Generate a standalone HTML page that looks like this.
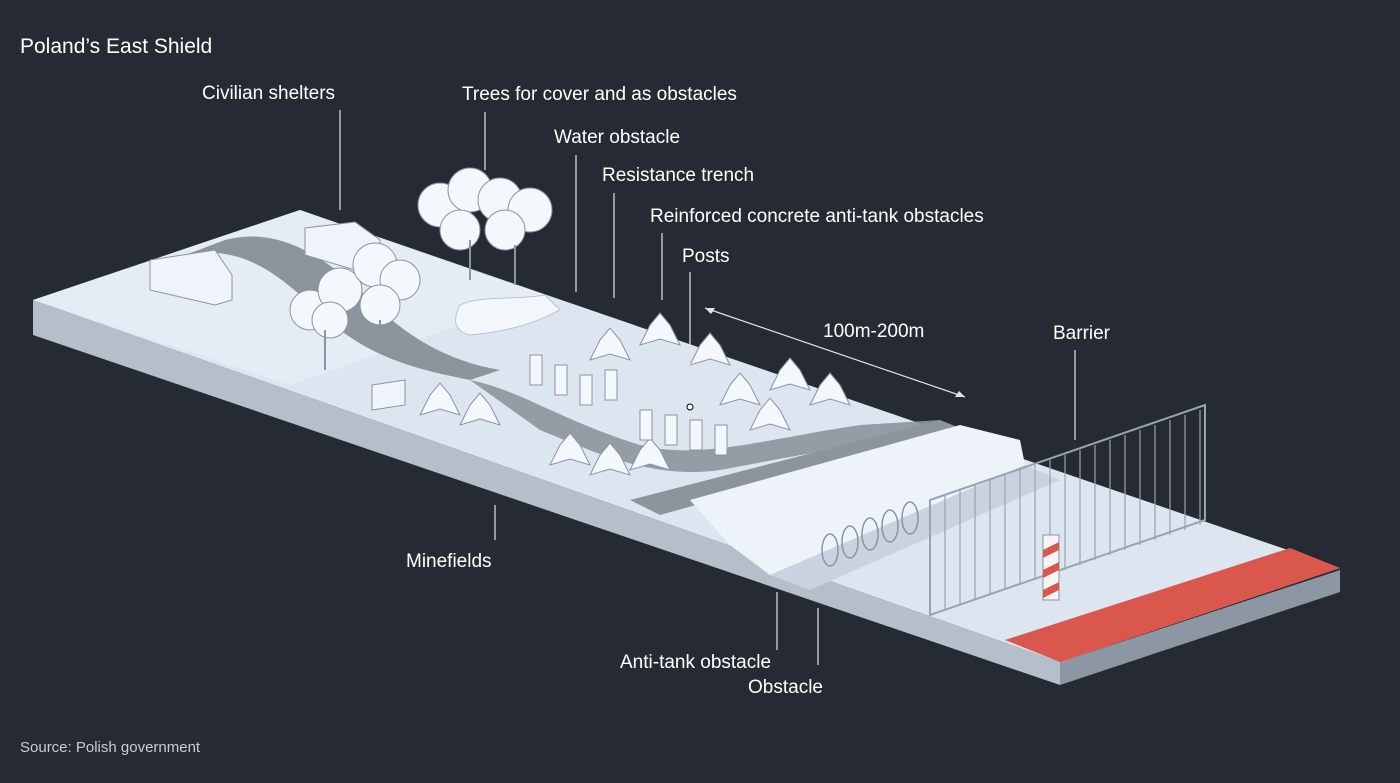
<!DOCTYPE html>
<html><head><meta charset="utf-8"><style>
body{margin:0;background:#262a33;}
svg{display:block;font-family:"Liberation Sans",sans-serif;}
</style></head><body>
<svg width="1400" height="783" viewBox="0 0 1400 783">
<rect width="1400" height="783" fill="#262a33"/>
<!-- slab sides -->
<polygon points="33,300 33,335 1060,685 1060,662" fill="#b5bfcc"/>
<polygon points="1060,662 1340,570 1340,592 1060,685" fill="#8d96a3"/>
<!-- top -->
<polygon points="33,300 300,210 1340,568 1060,662" fill="#dde5f0"/>
<!-- raised ground left -->
<polygon points="300,210 470,270 545,295 290,385 33,300" fill="#e6ecf5"/>
<!-- gray road curving -->
<path d="M185,255 C260,240 300,300 340,330 C380,360 420,370 470,380 L500,370 C440,360 400,330 370,300 C330,260 280,225 225,240 Z" fill="#8e949c"/>
<path d="M470,380 C520,390 560,420 640,445 C700,460 760,440 860,425 L940,420 L960,430 C880,440 800,455 720,470 C650,480 590,450 540,430 Z" fill="#8e949c" opacity="0.9"/>
<polygon points="630,500 940,420 965,430 660,515" fill="#8e949c"/>
<!-- berm -->
<polygon points="690,500 960,425 1020,440 1025,465 770,575 730,545" fill="#eef3fa"/>
<polygon points="770,575 1025,465 1060,480 810,590" fill="#c9d2de"/>
<!-- water -->
<path d="M460,305 C480,295 520,300 545,295 L560,310 C540,320 520,330 470,335 C450,330 455,315 460,305Z" fill="#f3f7fc" stroke="#b8c4d4"/>
<!-- blocks -->
<polygon points="150,260 215,250 232,275 232,300 215,305 150,290" fill="#f0f4fa" stroke="#8a94a2"/>
<polygon points="305,228 355,222 380,240 380,262 355,270 305,255" fill="#f0f4fa" stroke="#8a94a2"/>
<polygon points="372,385 405,380 405,405 372,410" fill="#f0f4fa" stroke="#8a94a2"/>
<!-- trees -->
<g fill="#f4f7fb" stroke="#8a94a2">
<circle cx="440" cy="205" r="22"/><circle cx="470" cy="190" r="22"/><circle cx="500" cy="200" r="22"/><circle cx="530" cy="210" r="22"/><circle cx="460" cy="230" r="20"/><circle cx="505" cy="230" r="20"/>
<circle cx="310" cy="310" r="20"/><circle cx="340" cy="290" r="22"/><circle cx="375" cy="265" r="22"/><circle cx="400" cy="280" r="20"/><circle cx="330" cy="320" r="18"/><circle cx="380" cy="305" r="20"/>
</g>
<g stroke="#8a94a2" stroke-width="2"><line x1="470" y1="240" x2="470" y2="280"/><line x1="515" y1="245" x2="515" y2="285"/><line x1="325" y1="330" x2="325" y2="370"/><line x1="380" y1="320" x2="380" y2="352"/></g>
<!-- tetrapods / posts -->
<g fill="#f4f7fb" stroke="#8a94a2">
<path d="M430,395 l10,-12 l10,12 l10,20 l-20,-6 l-20,6z"/>
<path d="M470,405 l10,-12 l10,12 l10,20 l-20,-6 l-20,6z"/>
<path d="M560,445 l10,-12 l10,12 l10,20 l-20,-6 l-20,6z"/>
<path d="M600,455 l10,-12 l10,12 l10,20 l-20,-6 l-20,6z"/>
<path d="M640,450 l10,-12 l10,12 l10,20 l-20,-6 l-20,6z"/>
<path d="M600,340 l10,-12 l10,12 l10,20 l-20,-6 l-20,6z"/>
<path d="M650,325 l10,-12 l10,12 l10,20 l-20,-6 l-20,6z"/>
<path d="M700,345 l10,-12 l10,12 l10,20 l-20,-6 l-20,6z"/>
<path d="M730,385 l10,-12 l10,12 l10,20 l-20,-6 l-20,6z"/>
<path d="M780,370 l10,-12 l10,12 l10,20 l-20,-6 l-20,6z"/>
<path d="M820,385 l10,-12 l10,12 l10,20 l-20,-6 l-20,6z"/>
<path d="M760,410 l10,-12 l10,12 l10,20 l-20,-6 l-20,6z"/>
<rect x="530" y="355" width="12" height="30"/><rect x="555" y="365" width="12" height="30"/><rect x="580" y="375" width="12" height="30"/><rect x="605" y="370" width="12" height="30"/>
<rect x="640" y="410" width="12" height="30"/><rect x="665" y="415" width="12" height="30"/><rect x="690" y="420" width="12" height="30"/><rect x="715" y="425" width="12" height="30"/>
</g>
<!-- coil -->
<g fill="none" stroke="#8a94a2" stroke-width="1.5">
<ellipse cx="830" cy="550" rx="8" ry="16"/><ellipse cx="850" cy="542" rx="8" ry="16"/><ellipse cx="870" cy="534" rx="8" ry="16"/><ellipse cx="890" cy="526" rx="8" ry="16"/><ellipse cx="910" cy="518" rx="8" ry="16"/>
</g>
<!-- fence -->
<polygon points="930,500 1205,405 1205,520 930,615" fill="none" stroke="#9aa3b0" stroke-width="2"/>
<g stroke="#9aa3b0" stroke-width="1.2">
<line x1="945" y1="495" x2="945" y2="610"/><line x1="960" y1="490" x2="960" y2="605"/><line x1="975" y1="485" x2="975" y2="600"/><line x1="990" y1="480" x2="990" y2="595"/><line x1="1005" y1="475" x2="1005" y2="590"/><line x1="1020" y1="470" x2="1020" y2="585"/><line x1="1035" y1="465" x2="1035" y2="580"/><line x1="1050" y1="460" x2="1050" y2="575"/><line x1="1065" y1="455" x2="1065" y2="570"/><line x1="1080" y1="450" x2="1080" y2="565"/><line x1="1095" y1="445" x2="1095" y2="560"/><line x1="1110" y1="440" x2="1110" y2="555"/><line x1="1125" y1="435" x2="1125" y2="550"/><line x1="1140" y1="430" x2="1140" y2="545"/><line x1="1155" y1="425" x2="1155" y2="540"/><line x1="1170" y1="420" x2="1170" y2="535"/><line x1="1185" y1="415" x2="1185" y2="530"/><line x1="1200" y1="410" x2="1200" y2="525"/>
</g>
<!-- red strip -->
<polygon points="1005,640 1290,548 1340,568 1060,662" fill="#d9574d"/>
<!-- post -->
<rect x="1043" y="535" width="16" height="65" fill="#f4f4f4" stroke="#8a94a2"/>
<path d="M1043,550 l16,-8 v8 l-16,8z M1043,570 l16,-8 v8 l-16,8z M1043,590 l16,-8 v8 l-16,8z" fill="#d9574d"/>
<!-- leader lines -->
<g stroke="#e0e4ea" stroke-width="1.2">
<line x1="340" y1="110" x2="340" y2="210"/><line x1="485" y1="112" x2="485" y2="170"/><line x1="576" y1="155" x2="576" y2="292"/><line x1="614" y1="193" x2="614" y2="298"/><line x1="662" y1="233" x2="662" y2="300"/><line x1="690" y1="272" x2="690" y2="405"/><line x1="1075" y1="350" x2="1075" y2="440"/><line x1="495" y1="505" x2="495" y2="540"/><line x1="777" y1="592" x2="777" y2="650"/><line x1="818" y1="608" x2="818" y2="665"/>
<line x1="705" y1="308" x2="965" y2="397"/>
</g>
<circle cx="690" cy="407" r="3" fill="#fff" stroke="#000"/>
<g fill="#e0e4ea"><path d="M705,308 l10,0 l-4,6z"/><path d="M965,397 l-10,0 l4,-6z"/></g>
<!-- labels -->
<g fill="#ffffff" font-size="19">
<text x="20" y="53" font-size="21">Poland’s East Shield</text>
<text x="202" y="99">Civilian shelters</text>
<text x="462" y="100">Trees for cover and as obstacles</text>
<text x="554" y="143">Water obstacle</text>
<text x="602" y="181">Resistance trench</text>
<text x="650" y="222">Reinforced concrete anti-tank obstacles</text>
<text x="682" y="262">Posts</text>
<text x="823" y="337">100m-200m</text>
<text x="1053" y="339">Barrier</text>
<text x="406" y="567">Minefields</text>
<text x="620" y="668">Anti-tank obstacle</text>
<text x="748" y="693">Obstacle</text>
<text x="20" y="752" font-size="15" fill="#c8ccd4">Source: Polish government</text>
</g>
</svg>
</body></html>
